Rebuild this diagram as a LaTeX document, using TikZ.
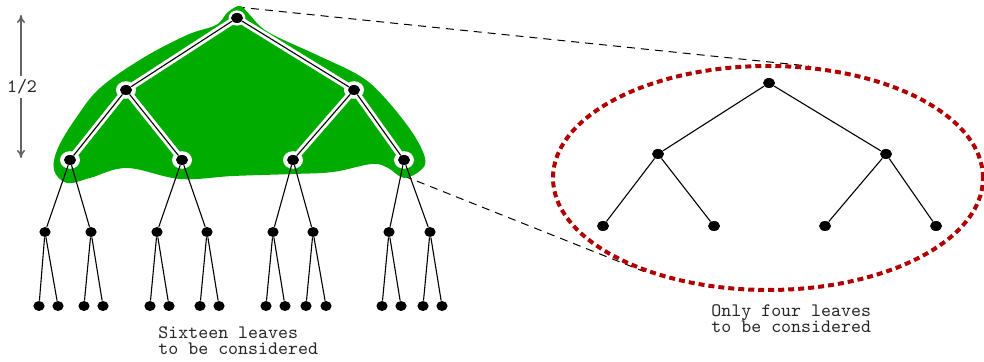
\documentclass[tikz,border=0pt]{standalone}
\usepackage{fontspec}
\usetikzlibrary{shapes.geometric,arrows.meta}
\definecolor{blobgreen}{RGB}{0,172,0}
\definecolor{ringred}{RGB}{176,0,0}
\definecolor{arrowgray}{RGB}{100,100,100}
\pgfdeclarelayer{back}
\pgfdeclarelayer{halo}
\pgfsetlayers{back,halo,main}
\begin{document}
\begin{tikzpicture}[x=0.5pt,y=-0.5pt,
  dot/.style={ellipse,fill=black,inner sep=0pt,minimum width=6pt,minimum height=5pt},
  sdot/.style={ellipse,fill=black,inner sep=0pt,minimum width=5.6pt,minimum height=5pt},
  edge/.style={line width=0.55pt},
  haloedge/.style={white,line width=3.4pt,line cap=round},
  guide/.style={line width=0.5pt,dash pattern=on 4pt off 3pt},
  lbl/.style={font=\ttfamily\fontsize{9.5}{8.2}\selectfont,align=left,inner sep=0pt,text=black!85}]
\useasboundingbox (0,0) rectangle (984,362);

% ---------- full tree, depth 4 ----------
\node[dot] (r)  at (237,18) {};
\node[dot] (a)  at (126,90) {};
\node[dot] (b)  at (354,90) {};
\node[dot] (aa) at (70,160) {};
\node[dot] (ab) at (182,160) {};
\node[dot] (ba) at (293,160) {};
\node[dot] (bb) at (404,160) {};
\foreach \n/\x in {aaa/45,aab/91,aba/157,abb/207,baa/273,bab/313,bba/389,bbb/430}
  \node[sdot] (\n) at (\x,232) {};
\foreach \p/\x/\y in {aaa/39/58,aab/84/103,aba/150/169,abb/200/219,baa/266/285,bab/306/326,bba/382/401,bbb/423/442}{
  \node[sdot] (\p1) at (\x,306) {};
  \node[sdot] (\p2) at (\y,306) {};
  \draw[edge] (\p) -- (\p1);
  \draw[edge] (\p) -- (\p2);
}
\foreach \u/\v in {aa/aaa,aa/aab,ab/aba,ab/abb,ba/baa,ba/bab,bb/bba,bb/bbb}
  \draw[edge] (\u) -- (\v);
\foreach \u/\v in {r/a,r/b,a/aa,a/ab,b/ba,b/bb}
  \draw[edge] (\u) -- (\v);

% ---------- pruned tree inside the ring ----------
\node[dot] (R)   at (769,83) {};
\node[dot] (Ra)  at (658,154) {};
\node[dot] (Rb)  at (886,154) {};
\node[dot] (Raa) at (603,226) {};
\node[dot] (Rab) at (714,226) {};
\node[dot] (Rba) at (825,226) {};
\node[dot] (Rbb) at (936,226) {};
\foreach \u/\v in {R/Ra,R/Rb,Ra/Raa,Ra/Rab,Rb/Rba,Rb/Rbb}
  \draw[edge] (\u) -- (\v);

\node[ellipse,draw=ringred,line width=2pt,dash pattern=on 3pt off 2pt,
      inner sep=0pt,minimum width=215pt,minimum height=112pt] (ring) at (768,178) {};

% ---------- zoom guides and explored region ----------
\coordinate (gtop) at (237,7);
\coordinate (gbot) at (404,176);
\begin{pgfonlayer}{back}
  \draw[guide] (gtop) -- (ring.70);
  \draw[guide] (gbot) -- (ring.217);
  \fill[blobgreen] plot[smooth cycle,tension=0.6] coordinates {
    (240,6) (249,14) (268,32) (317,55) (360,76) (384,97) (412,132) (425,158)
    (421,170) (404,178) (388,168) (372,164) (333,172) (293,174) (233,176)
    (180,179) (127,168) (90,178) (67,183) (54,170) (58,148) (76,118)
    (100,88) (143,58) (187,35) (216,25) (228,12)};
\end{pgfonlayer}
\begin{pgfonlayer}{halo}
  \foreach \u/\v in {r/a,r/b,a/aa,a/ab,b/ba,b/bb}
    \draw[haloedge] (\u.center) -- (\v.center);
  \foreach \n in {a,b,aa,ab,ba,bb}
    \fill[white] (\n) ellipse [x radius=5pt,y radius=4.4pt];
  \fill[white] (r) ellipse [x radius=4.2pt,y radius=3.8pt];
\end{pgfonlayer}

% ---------- depth marker ----------
\coordinate (mtop) at (21,15);
\coordinate (mbot) at (21,158);
\draw[arrowgray,line width=0.8pt,{To[length=4pt,width=4pt]}-{To[length=4pt,width=4pt]}] (mtop) -- (mbot);
\node[lbl,fill=white,inner sep=2pt] (half) at (22,87) {1/2};

% ---------- captions ----------
\node[lbl,anchor=north west] (capL) at (158,326) {Sixteen leaves\\to be considered};
\node[lbl,anchor=north west] (capR) at (711,304) {Only four leaves\\to be considered};
\end{tikzpicture}
\end{document}
